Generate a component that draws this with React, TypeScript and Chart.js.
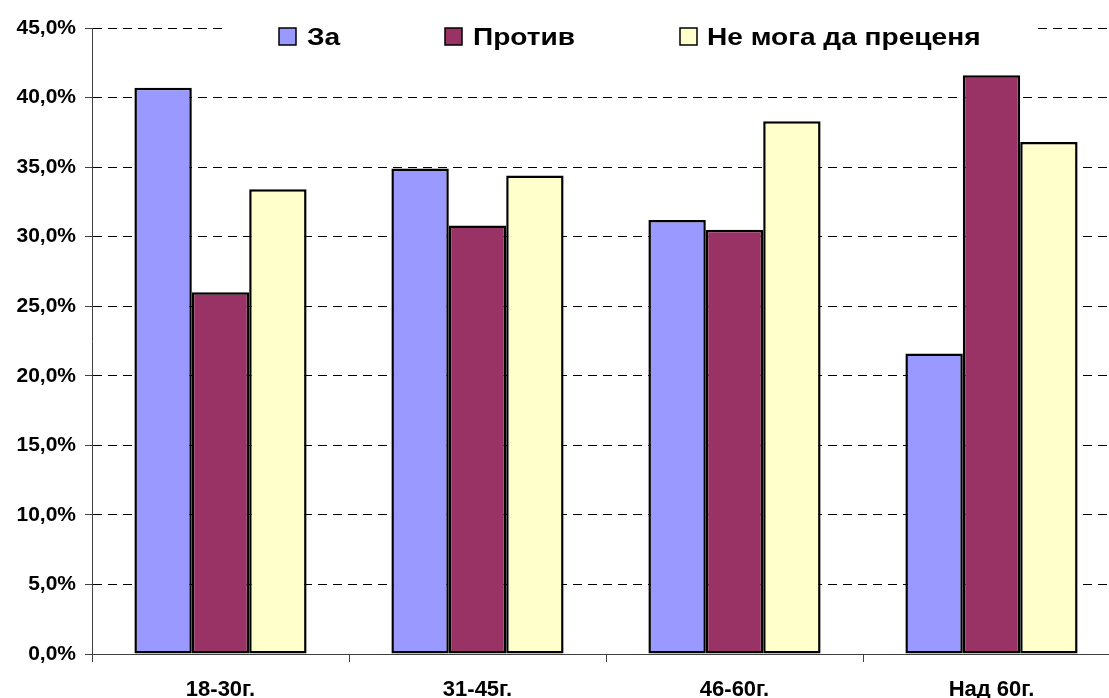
import React, { useEffect, useRef } from "react";
import { Chart, registerables } from "chart.js";

Chart.register(...registerables);

const categories = ["18-30г.", "31-45г.", "46-60г.", "Над 60г."];
const seriesNames = ["За", "Против", "Не мога да преценя"];
const zaValues = [40.7, 34.9, 31.2, 21.6];
const protivValues = [26.0, 30.8, 30.5, 41.6];
const neMogaValues = [33.4, 34.4, 38.3, 36.8];
const seriesColors = ["#9999FF", "#993366", "#FFFFCC"];
const yTicks = [0, 5, 10, 15, 20, 25, 30, 35, 40, 45];

const FONT = "Arial, 'Liberation Sans', sans-serif";

const legendPlugin = {
  id: "customLegend",
  afterDraw(chart: any) {
    const ctx = chart.ctx;
    ctx.save();
    ctx.fillStyle = "#FFFFFF";
    ctx.fillRect(226, 12, 810, 40);
    const boxX = [279, 445, 680];
    const textX = [307, 473, 707];
    chart.data.datasets.forEach((ds: any, i: number) => {
      ctx.fillStyle = ds.backgroundColor;
      ctx.fillRect(boxX[i], 28, 17, 17);
      ctx.lineWidth = 1.5;
      ctx.strokeStyle = "#000";
      ctx.strokeRect(boxX[i], 28, 17, 17);
      ctx.save();
      ctx.fillStyle = "#000";
      ctx.font = `bold 24px ${FONT}`;
      ctx.textBaseline = "middle";
      ctx.textAlign = "left";
      ctx.translate(textX[i], 38);
      ctx.scale(1.17, 1);
      ctx.fillText(ds.label, 0, 0);
      ctx.restore();
    });
    ctx.restore();
  },
};

export default function App() {
  const ref = useRef<HTMLCanvasElement | null>(null);
  useEffect(() => {
    if (!ref.current) return;
    const data = [zaValues, protivValues, neMogaValues];
    const chart = new Chart(ref.current, {
      type: "bar",
      data: {
        labels: categories,
        datasets: seriesNames.map((name, i) => ({
          label: name,
          data: data[i],
          backgroundColor: seriesColors[i],
          borderColor: "#000",
          borderWidth: 2.5,
          borderSkipped: false,
          categoryPercentage: 0.67,
          barPercentage: 1,
        })),
      },
      options: {
        responsive: false,
        animation: false,
        devicePixelRatio: 1,
        layout: { padding: { left: 0, right: 10, top: 28, bottom: 0 } },
        plugins: {
          legend: { display: false },
          tooltip: { enabled: false },
        },
        scales: {
          x: {
            grid: {
              display: true,
              drawOnChartArea: false,
              drawTicks: true,
              tickLength: 8,
              color: "#404040",
              offset: true,
            },
            border: { display: true, color: "#404040", width: 1 },
            ticks: {
              color: "#000",
              font: { family: FONT, size: 22, weight: "bold" },
              padding: 15,
              maxRotation: 0,
            },
            afterFit: (s: any) => {
              s.height = 44;
            },
          },
          y: {
            min: 0,
            max: 45,
            afterBuildTicks: (s: any) => {
              s.ticks = yTicks.map((v) => ({ value: v }));
            },
            grid: {
              color: "#000",
              lineWidth: 1,
              tickBorderDash: [],
              tickColor: "#404040",
              tickLength: 7,
            },
            border: { display: true, color: "#404040", width: 1, dash: [9, 6] },
            ticks: {
              color: "#000",
              font: { family: FONT, size: 21, weight: "bold" },
              padding: 9,
              callback: (v: any) => Number(v).toFixed(1).replace(".", ",") + "%",
            },
            afterFit: (s: any) => {
              s.width = 92;
            },
          },
        },
      },
      plugins: [legendPlugin],
    });
    return () => chart.destroy();
  }, []);
  return (
    <div
      style={{
        position: "fixed",
        left: 0,
        top: 0,
        width: 1109,
        height: 698,
        overflow: "hidden",
        background: "#fff",
      }}
    >
      <canvas ref={ref} width={1130} height={698} style={{ display: "block" }} />
    </div>
  );
}
